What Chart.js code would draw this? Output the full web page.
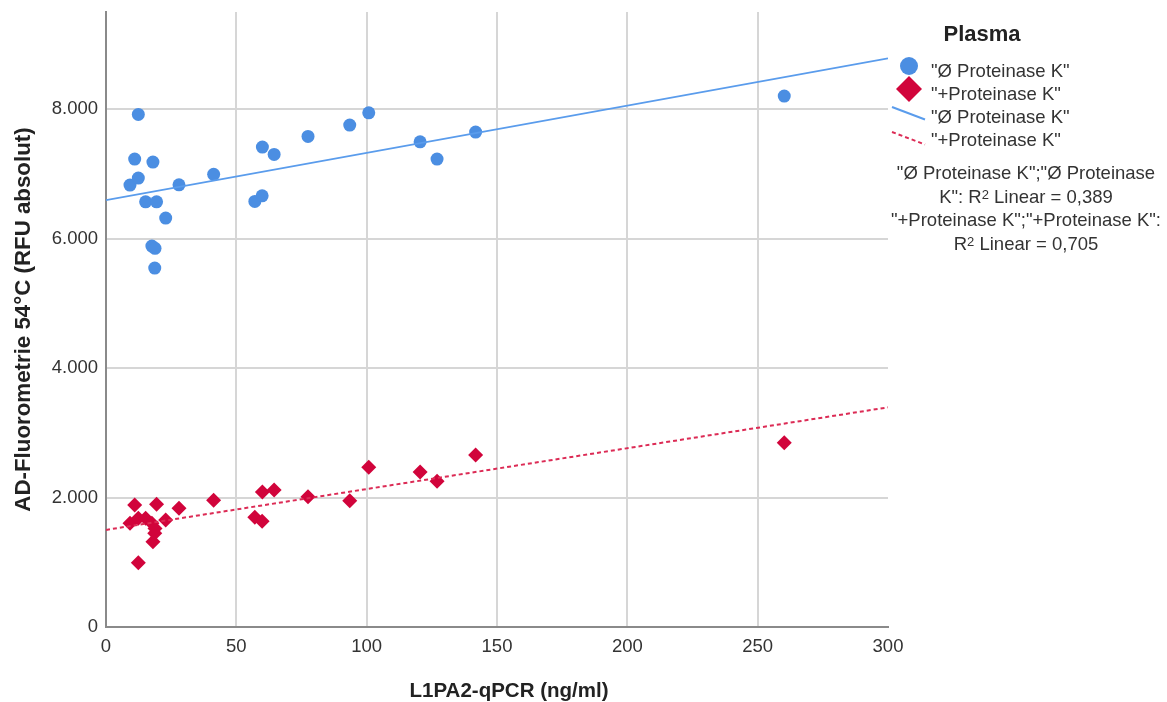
<!DOCTYPE html>
<html lang="de">
<head>
<meta charset="UTF-8">
<title>Plasma - L1PA2-qPCR vs. AD-Fluorometrie</title>
<script src="https://cdn.jsdelivr.net/npm/chart.js@4.4.1/dist/chart.umd.min.js"></script>
<style>
    html, body { margin: 0; padding: 0; background: #fff; }
    #wrap { position: relative; width: 1167px; height: 702px; }
</style>
</head>
<body>
<div id="wrap"><canvas id="scatterChart"></canvas></div>
<script>
    // L1PA2-qPCR (ng/ml), one value per plasma sample
    var l1pa2 = [9.2, 11.0, 12.4, 12.4, 15.2, 17.6, 18.0, 18.7, 18.8, 19.4, 22.9, 28.0, 41.3, 57.1, 59.9, 60.0, 64.5, 77.5, 93.5, 100.8, 120.5, 127.0, 141.8, 260.2];
    // AD-Fluorometrie 54°C (RFU absolut)
    var ohneProtK = [6826, 7228, 7918, 6934, 6568, 5884, 7181, 5544, 5849, 6568, 6317, 6831, 6992, 6574, 6661, 7413, 7300, 7578, 7753, 7943, 7495, 7228, 7645, 8201];
    var mitProtK = [1602, 1884, 993, 1679, 1679, 1602, 1317, 1447, 1520, 1895, 1653, 1833, 1957, 1694, 1632, 2085, 2116, 2012, 1951, 2466, 2394, 2250, 2656, 2846];

    // linear fit lines, read at both ends of the x axis
    var fitX = [0, 300];
    var ohneFit = [6595, 8783];
    var mitFit = [1500, 3393];

    var xTicks = [0, 50, 100, 150, 200, 250, 300];
    var yTicks = [0, 2000, 4000, 6000, 8000];
    var yTickLabels = ['0', '2.000', '4.000', '6.000', '8.000'];

    var xTitle = 'L1PA2-qPCR (ng/ml)';
    var yTitle = 'AD-Fluorometrie 54°C (RFU absolut)';
    var legendTitle = 'Plasma';
    var seriesNames = ['"\u00D8 Proteinase K"', '"+Proteinase K"'];
    var r2Values = ['0,389', '0,705'];

    var fontFam = '"Liberation Sans", Arial, Helvetica, sans-serif';
    var blue = '#4b8ee2';
    var red = '#d1043b';
    var blueLine = '#5a9cec';
    var redLine = '#dc2b55';
    var textCol = '#333333';

    function toPoints(xs, ys) {
        return xs.map(function(x, i) { return { x: x, y: ys[i] }; });
    }

    // draws a centred line made of differently styled pieces (for the superscript 2)
    function drawRich(ctx, parts, cx, y) {
        var total = 0;
        parts.forEach(function(p) { ctx.font = p.f; total += ctx.measureText(p.t).width; });
        var x = cx - total / 2;
        ctx.textAlign = 'left';
        parts.forEach(function(p) {
            ctx.font = p.f;
            ctx.fillText(p.t, x, y + (p.dy || 0));
            x += ctx.measureText(p.t).width;
        });
    }

    var spssLegend = {
        id: 'spssLegend',
        afterDraw: function(chart) {
            var ctx = chart.ctx;
            var norm = '18.5px ' + fontFam;
            var small = '13px ' + fontFam;
            ctx.save();
            ctx.textBaseline = 'alphabetic';

            // x axis title (SPSS centres it a little right of the plot centre)
            ctx.fillStyle = '#222';
            ctx.font = 'bold 20.5px ' + fontFam;
            ctx.textAlign = 'center';
            ctx.fillText(xTitle, 509, 697);

            ctx.font = 'bold 22px ' + fontFam;
            ctx.fillText(legendTitle, 982, 41);

            // point markers
            ctx.fillStyle = blue;
            ctx.beginPath();
            ctx.arc(909, 66, 9, 0, Math.PI * 2);
            ctx.fill();
            ctx.fillStyle = red;
            ctx.beginPath();
            ctx.moveTo(909, 76); ctx.lineTo(922, 89); ctx.lineTo(909, 102); ctx.lineTo(896, 89);
            ctx.closePath();
            ctx.fill();

            // fit line glyphs
            ctx.lineWidth = 2;
            ctx.strokeStyle = blueLine;
            ctx.beginPath(); ctx.moveTo(892, 107); ctx.lineTo(925, 119.5); ctx.stroke();
            ctx.strokeStyle = redLine;
            ctx.setLineDash([4, 3]);
            ctx.beginPath(); ctx.moveTo(892, 132); ctx.lineTo(925, 144.5); ctx.stroke();
            ctx.setLineDash([]);

            ctx.fillStyle = textCol;
            ctx.font = norm;
            ctx.textAlign = 'left';
            ctx.fillText(seriesNames[0], 931, 77);
            ctx.fillText(seriesNames[1], 931, 100);
            ctx.fillText(seriesNames[0], 931, 123);
            ctx.fillText(seriesNames[1], 931, 146);

            var cx = 1026;
            drawRich(ctx, [{ t: seriesNames[0] + ';"\u00D8 Proteinase', f: norm }], cx, 178.5);
            drawRich(ctx, [{ t: 'K": R', f: norm }, { t: '2', f: small, dy: -4 }, { t: ' Linear = ' + r2Values[0], f: norm }], cx, 202.5);
            drawRich(ctx, [{ t: seriesNames[1] + ';' + seriesNames[1] + ':', f: norm }], cx, 226);
            drawRich(ctx, [{ t: 'R', f: norm }, { t: '2', f: small, dy: -4 }, { t: ' Linear = ' + r2Values[1], f: norm }], cx, 249.5);
            ctx.restore();
        }
    };

    function gridColor(edgeValues) {
        return function(c) {
            if (!c.tick) return 'rgba(0,0,0,0)';
            return edgeValues.indexOf(c.tick.value) >= 0 ? 'rgba(0,0,0,0)' : '#d6d6d6';
        };
    }

    var ctx = document.getElementById('scatterChart').getContext('2d');
    var chart = new Chart(ctx, {
        type: 'scatter',
        data: {
            datasets: [
                {
                    label: seriesNames[0] + ' fit',
                    type: 'line',
                    data: toPoints(fitX, ohneFit),
                    borderColor: blueLine,
                    borderWidth: 1.8,
                    pointRadius: 0,
                    fill: false,
                    order: 1
                },
                {
                    label: seriesNames[1] + ' fit',
                    type: 'line',
                    data: toPoints(fitX, mitFit),
                    borderColor: redLine,
                    borderWidth: 2,
                    borderDash: [4, 3],
                    pointRadius: 0,
                    fill: false,
                    order: 1
                },
                {
                    label: seriesNames[0],
                    data: toPoints(l1pa2, ohneProtK),
                    backgroundColor: blue,
                    borderWidth: 0,
                    pointStyle: 'circle',
                    pointRadius: 6.5,
                    order: 2
                },
                {
                    label: seriesNames[1],
                    data: toPoints(l1pa2, mitProtK),
                    backgroundColor: red,
                    borderWidth: 0,
                    pointStyle: 'rectRot',
                    pointRadius: 7.5,
                    order: 2
                }
            ]
        },
        options: {
            responsive: true,
            maintainAspectRatio: false,
            animation: false,
            layout: { padding: { left: 0, top: 12, right: 279, bottom: 0 } },
            plugins: {
                legend: { display: false },
                tooltip: { enabled: false }
            },
            scales: {
                x: {
                    type: 'linear',
                    min: 0,
                    max: 300,
                    afterBuildTicks: function(scale) {
                        scale.ticks = xTicks.map(function(v) { return { value: v }; });
                    },
                    afterFit: function(scale) {
                        scale.height = 75;
                        scale.paddingLeft = 0;
                        scale.paddingRight = 0;
                    },
                    grid: { color: gridColor([0, 300]), lineWidth: 2, drawTicks: false },
                    border: { display: true, color: '#8a8a8a', width: 2 },
                    ticks: {
                        padding: 9,
                        color: textCol,
                        font: { family: fontFam, size: 18.5 },
                        maxRotation: 0
                    },
                    title: { display: false }
                },
                y: {
                    type: 'linear',
                    min: 0,
                    max: 9500,
                    afterBuildTicks: function(scale) {
                        scale.ticks = yTicks.map(function(v) { return { value: v }; });
                    },
                    afterFit: function(scale) {
                        scale.width = 106;
                        scale.paddingTop = 0;
                        scale.paddingBottom = 0;
                    },
                    grid: { color: gridColor([0]), lineWidth: 2, drawTicks: false },
                    border: { display: true, color: '#8a8a8a', width: 2 },
                    ticks: {
                        padding: 8,
                        color: textCol,
                        font: { family: fontFam, size: 18.5 },
                        callback: function(value, index) { return yTickLabels[index]; }
                    },
                    title: {
                        display: true,
                        text: yTitle,
                        color: '#222',
                        font: { family: fontFam, size: 22.3, weight: 'bold' },
                        padding: { top: 10, bottom: 0 }
                    }
                }
            }
        },
        plugins: [spssLegend]
    });
</script>
</body>
</html>
